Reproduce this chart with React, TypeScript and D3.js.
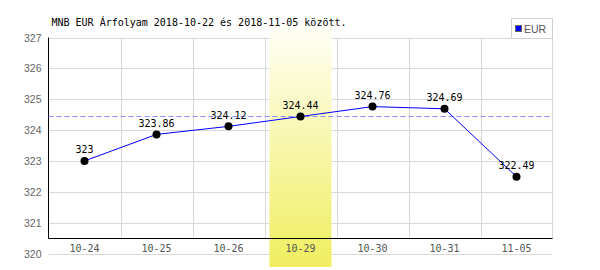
import React, { useEffect } from "react";
import * as d3 from "d3";

const categories = ["10-24", "10-25", "10-26", "10-29", "10-30", "10-31", "11-05"];
const values = [323, 323.86, 324.12, 324.44, 324.76, 324.69, 322.49];
const valueLabels = ["323", "323.86", "324.12", "324.44", "324.76", "324.69", "322.49"];
const yTicks = [320, 321, 322, 323, 324, 325, 326, 327];
const refValue = 324.44;
const highlightCategory = "10-29";
const title = "MNB EUR Árfolyam 2018-10-22 és 2018-11-05 között.";
const seriesName = "EUR";

const W = 600;
const H = 270;
const left = 48.5;
const right = 552.5;
const top = 37.5;
const bottom = 253.5;

export default function App() {
  useEffect(() => {
    document.body.style.margin = "0";
  }, []);

  const x = d3.scaleBand<string>().domain(categories).range([left, right]).padding(0);
  const y = d3.scaleLinear().domain([320, 327]).range([bottom, top]);
  const cx = (c: string) => (x(c) as number) + x.bandwidth() / 2;
  const crisp = (v: number) => Math.round(v) + 0.5;
  const axisY = crisp(y(320.5));

  const line = d3
    .line<number>()
    .x((_, i) => cx(categories[i]))
    .y((d) => y(d));

  const mono = "'DejaVu Sans Mono', monospace";
  const sans = "'Liberation Sans', Arial, sans-serif";
  const hx = x(highlightCategory) as number;

  return (
    <svg width={W} height={H} style={{ position: "absolute", left: 0, top: 0, display: "block" }}>
      <defs>
        <linearGradient id="hl" x1="0" y1="0" x2="0" y2="1">
          <stop offset="0%" stopColor="#fffff8" />
          <stop offset="100%" stopColor="#f0ee5e" />
        </linearGradient>
      </defs>
      <rect width={W} height={H} fill="#fff" />
      {/* horizontal gridlines */}
      {yTicks.map((t) => (
        <line key={"h" + t} x1={left} x2={right} y1={crisp(y(t))} y2={crisp(y(t))} stroke="#d8d8d8" strokeWidth={1} />
      ))}
      {/* vertical gridlines */}
      {categories.map((c, i) =>
        i === 0 ? null : (
          <line key={"v" + c} x1={crisp(x(c) as number)} x2={crisp(x(c) as number)} y1={top} y2={axisY} stroke="#d8d8d8" />
        )
      )}
      <line x1={right} x2={right} y1={top} y2={axisY} stroke="#d8d8d8" />
      {/* highlight band */}
      <rect x={hx + 5} y={24} width={x.bandwidth() - 10} height={243} fill="url(#hl)" />
      {/* axes */}
      <line x1={left} x2={left} y1={top} y2={axisY} stroke="#000" />
      <line x1={left} x2={right} y1={axisY} y2={axisY} stroke="#000" />
      {/* y tick labels */}
      {yTicks.map((t) => (
        <text key={"yl" + t} x={41.5} y={y(t) + 4} textAnchor="end" fontFamily={sans} fontSize={10.5} fill="#666">
          {t}
        </text>
      ))}
      {/* x labels */}
      {categories.map((c) => (
        <text key={"xl" + c} x={cx(c)} y={252} textAnchor="middle" fontFamily={mono} fontSize={10} fill="#555">
          {c}
        </text>
      ))}
      {/* reference dashed line */}
      <line x1={left} x2={right} y1={crisp(y(refValue))} y2={crisp(y(refValue))} stroke="#8c8cff" strokeDasharray="5,3" />
      {/* series line */}
      <path d={line(values) || ""} fill="none" stroke="#0000ff" strokeWidth={1} />
      {values.map((v, i) => (
        <circle key={"p" + i} cx={cx(categories[i])} cy={y(v)} r={4} fill="#000" />
      ))}
      {values.map((v, i) => (
        <text key={"dl" + i} x={cx(categories[i])} y={y(v) - 7.5} textAnchor="middle" fontFamily={mono} fontSize={10} fill="#000">
          {valueLabels[i]}
        </text>
      ))}
      {/* title */}
      <text x={199} y={26} textAnchor="middle" fontFamily={mono} fontSize={10} fill="#000">
        {title}
      </text>
      {/* legend */}
      <rect x={511.5} y={18.5} width={41} height={20} fill="#fff" stroke="#d0d0d0" />
      <rect x={515.5} y={25.5} width={6} height={6} fill="#0000ff" stroke="#666" />
      <text x={524} y={33} fontFamily={sans} fontSize={10.5} fill="#555">
        {seriesName}
      </text>
    </svg>
  );
}
